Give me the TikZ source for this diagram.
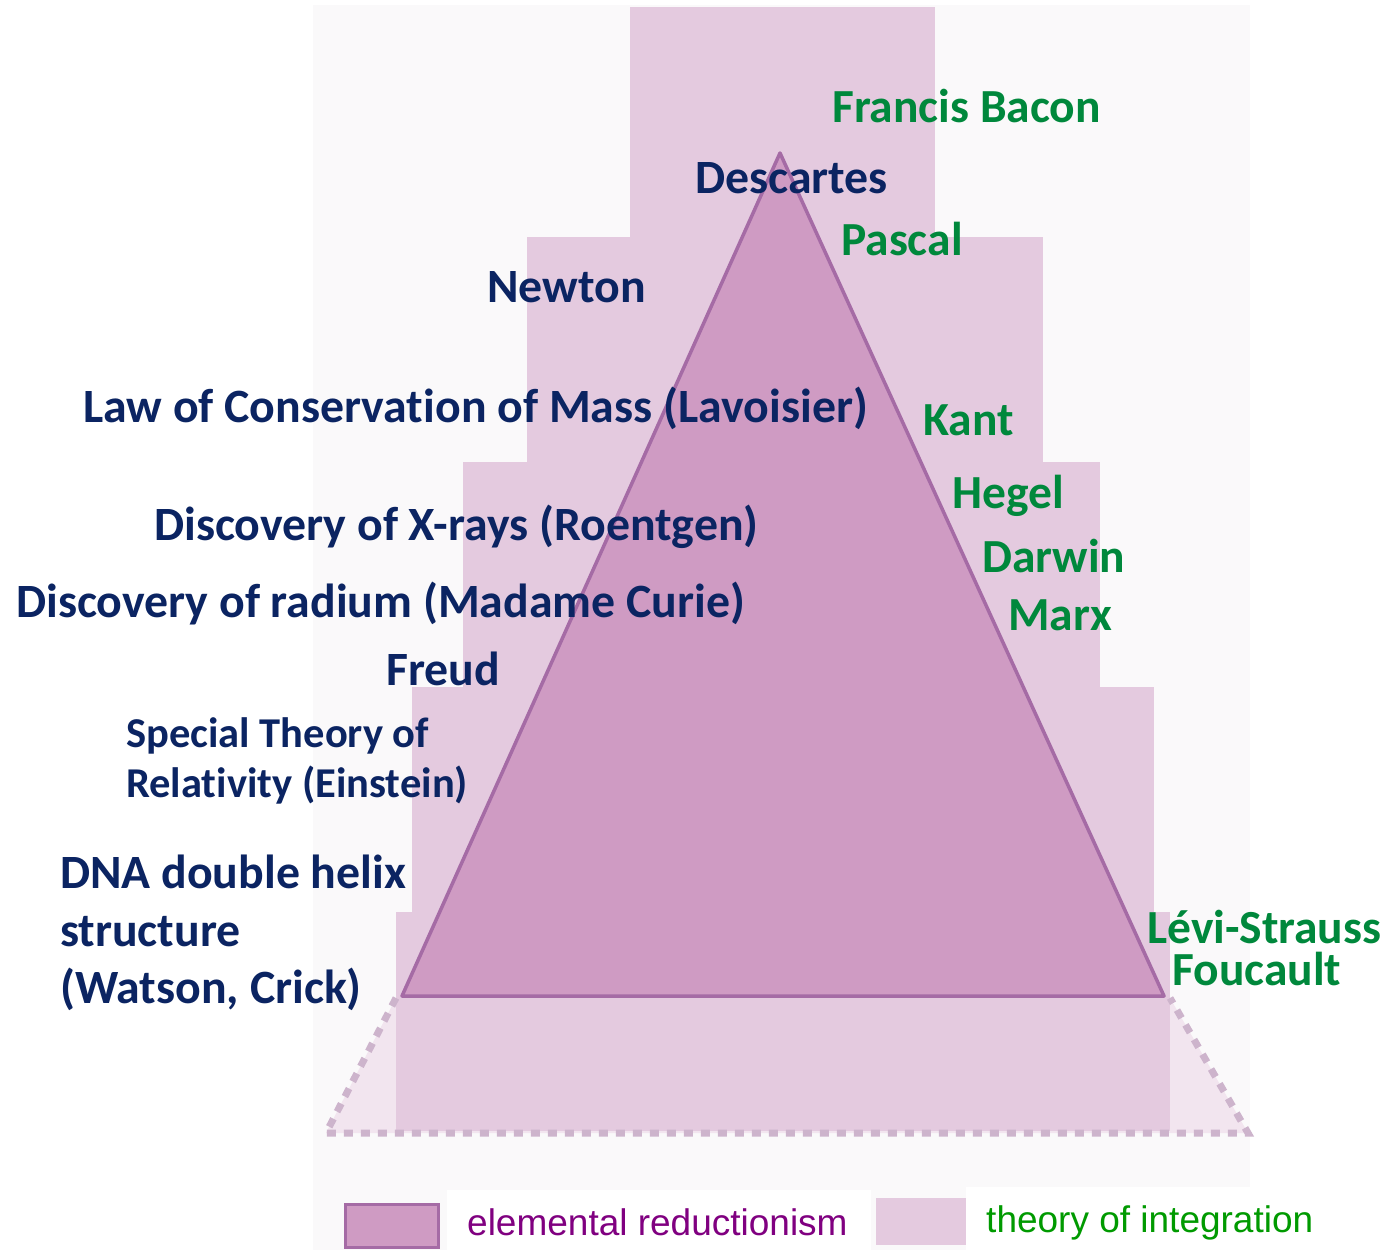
\documentclass[tikz,border=0pt]{standalone}
\usepackage{fontspec}
\usepackage{graphicx}
\setmainfont{Carlito}[Ligatures=NoCommon]
\newfontfamily\legendfont{Liberation Sans}
\definecolor{navytext}{HTML}{0B2462}
\definecolor{greentext}{HTML}{00883C}
\definecolor{legpurple}{HTML}{800080}
\definecolor{leggreen}{HTML}{009A00}
\definecolor{tricol}{HTML}{CF9BC3}
\definecolor{triline}{HTML}{A56BA5}
\definecolor{stepcol}{HTML}{E4CADF}
\definecolor{lightcol}{HTML}{F2E5EF}
\definecolor{dashcol}{HTML}{CDB4CC}
\definecolor{bgcol}{HTML}{FAF9FA}
\begin{document}
\begin{tikzpicture}[x=1pt,y=-1pt,
  sci/.style={anchor=base west, inner sep=0pt, text=navytext, font=\bfseries\fontsize{47.8}{50}\selectfont},
  phil/.style={anchor=base west, inner sep=0pt, text=greentext, font=\bfseries\fontsize{47.5}{50}\selectfont},
  smallsci/.style={sci, font=\bfseries\fontsize{42.5}{46}\selectfont},
  stepfill/.style={fill=stepcol},
  dashline/.style={draw=dashcol, line width=7pt, dash pattern=on 9pt off 8pt},
  legtext/.style={anchor=base west, inner sep=0pt, font=\legendfont\fontsize{37}{40}\selectfont}
]
\useasboundingbox (0,0) rectangle (1388,1250);
\fill[white] (0,0) rectangle (1388,1250);
\fill[bgcol] (313,5) rectangle (1250,1250);

% dashed base trapezoid
\coordinate (tl) at (396,998);
\coordinate (bl) at (326,1133);
\coordinate (brr) at (1248,1133);
\coordinate (tr) at (1170,998);
\fill[lightcol] (tl) -- (bl) -- (brr) -- (tr) -- cycle;

% stepped pyramid
\fill[stepfill] (630,7) rectangle (935,237);
\fill[stepfill] (527,237) rectangle (1043,462);
\fill[stepfill] (463,462) rectangle (1100,687);
\fill[stepfill] (412,687) rectangle (1154,912);
\fill[stepfill] (396,912) rectangle (1170,1131);

\draw[dashline] (tl) -- (bl) -- (brr) -- (tr);

% triangle
\coordinate (apex) at (780,153);
\coordinate (bleft) at (402,996);
\coordinate (bright) at (1164,996);
\filldraw[fill=tricol, draw=triline, line width=3.5pt, line join=round] (apex) -- (bleft) -- (bright) -- cycle;

% legend backgrounds
\fill[white] (447,1190) rectangle (871,1250);
\fill[white] (966,1187) rectangle (1250,1250);

% labels: sciences
\node[sci] (descartes) at (695,193) {Descartes};
\node[sci] (newton) at (487,302) {Newton};
\node[sci] (lavoisier) at (83,422) {Law of Conservation of Mass (Lavoisier)};
\node[sci] (roentgen) at (154,540) {Discovery of X-rays (Roentgen)};
\node[sci] (curie) at (16,617) {Discovery of radium (Madame Curie)};
\node[sci] (freud) at (386,685) {Freud};
\node[smallsci] (einstein1) at (126,747) {Special Theory of};
\node[smallsci] (einstein2) at (126,797) {Relativity (Einstein)};
\node[sci] (dna1) at (60,888) {DNA double helix};
\node[sci] (dna2) at (60,946) {structure};
\node[sci] (dna3) at (60,1003) {(Watson, Crick)};

% labels: philosophy
\node[phil] (bacon) at (832,122) {Francis Bacon};
\node[phil] (pascal) at (841,255) {Pascal};
\node[phil] (kant) at (923,435) {Kant};
\node[phil] (hegel) at (952,508) {Hegel};
\node[phil] (darwin) at (982,572) {Darwin};
\node[phil] (marx) at (1008,630) {Marx};
\node[phil] (levi) at (1147,943) {Lévi-Strauss};
\node[phil] (foucault) at (1172,985) {Foucault};

% legend
\node[draw=triline, fill=tricol, line width=3pt, minimum width=93pt, minimum height=43pt, inner sep=0pt] (legred) at (392,1226) {};
\node[legtext, text=legpurple] (legredtext) at (467,1235) {elemental reductionism};
\node[fill=stepcol, minimum width=90pt, minimum height=47pt, inner sep=0pt] (legint) at (921,1221) {};
\node[legtext, text=leggreen] (leginttext) at (986,1232) {theory of integration};
\end{tikzpicture}
\end{document}
